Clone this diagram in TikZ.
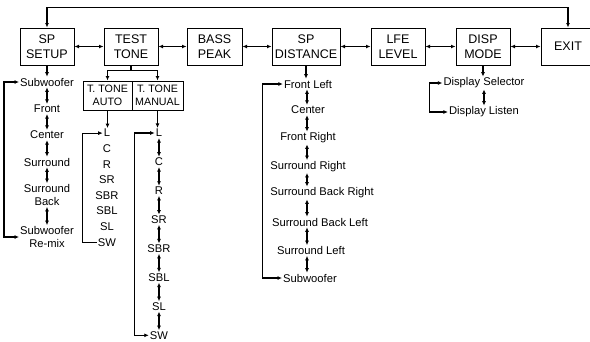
\documentclass[tikz,border=0pt]{standalone}
\usepackage{fontspec}
\setmainfont{Liberation Sans}
\usetikzlibrary{arrows.meta}

\begin{document}
\begin{tikzpicture}[x=1pt, y=-1pt,
    menu/.style={draw, line width=1pt, minimum width=54pt, minimum height=37pt,
      inner sep=2pt, align=center, font=\fontsize{12.5}{15.5}\selectfont},
    submenu/.style={draw, line width=1pt, minimum height=29pt, inner sep=1.5pt,
      align=center, font=\fontsize{10.7}{13}\selectfont},
    item/.style={inner sep=1pt, align=center, font=\fontsize{11.2}{13}\selectfont},
    link/.style={line width=1.2pt, -{Latex[length=4.5pt,width=4pt]}},
    both/.style={line width=1.2pt, {Latex[length=4.5pt,width=4pt]}-{Latex[length=4.5pt,width=4pt]}}]
  \useasboundingbox (0,0) rectangle (590,341);

  % Main menu
  \node[menu] (setup) at (47,46.5) {SP\\SETUP};
  \node[menu] (tone) at (131,46.5) {TEST\\TONE};
  \node[menu, minimum width=55pt] (bass) at (214.5,46.5) {BASS\\PEAK};
  \node[menu, minimum width=68pt] (dist) at (306,46.5) {SP\\DISTANCE};
  \node[menu] (lfe) at (398,46.5) {LFE\\LEVEL};
  \node[menu] (disp) at (483,46.5) {DISP\\MODE};
  \node[menu] (exit) at (568,46.5) {EXIT};
  \foreach \a/\b in {setup/tone,tone/bass,bass/dist,dist/lfe,lfe/disp,disp/exit}
    \draw[both] (\a) -- (\b);
  \draw[both] (setup.north) -- ++(0,-20) -| (exit.north);

  % SP SETUP
  \node[item] (sub) at (47,82) {Subwoofer};
  \node[item] (front) at (47,109) {Front};
  \node[item] (cen) at (47,135) {Center};
  \node[item] (sur) at (47,162) {Surround};
  \node[item] (surb) at (47,195) {Surround\\Back};
  \node[item] (remix) at (47,237) {Subwoofer\\Re-mix};
  \draw[link] (setup.south) -- (sub.north);
  \foreach \a/\b in {sub/front,front/cen,cen/sur,sur/surb,surb/remix}
    \draw[both] (\a) -- (\b);
  \draw[both] (sub.west) -- ++(-15,0) |- (remix.west);

  % TEST TONE
  \node[submenu, minimum width=49pt] (tauto) at (107.5,95.5) {T. TONE\\AUTO};
  \node[submenu, minimum width=51pt] (tman) at (157.5,95.5) {T. TONE\\MANUAL};
  \draw[link] (tone.south) -- ++(0,5) -| (tauto.north);
  \draw[link] (tone.south) -- ++(0,5) -| (tman.north);

  \foreach \t [count=\i] in {L,C,R,SR,SBR,SBL,SL,SW}
    \node[item] (a\i) at (107,117.5+15.6*\i) {\t};
  \draw[link] (tauto.south) -- (tauto.south |- a1.north);
  \draw[link] (a8.west) -- ++(-14,0) |- (a1.west);

  \foreach \t [count=\i] in {L,C,R,SR,SBR,SBL,SL,SW}
    \node[item] (m\i) at (159,104.1+28.9*\i) {\t};
  \draw[link] (tman.south) -- (tman.south |- m1.north);
  \foreach \i [evaluate=\i as \j using int(\i+1)] in {1,...,7}
    \draw[both] (m\i) -- (m\j);
  \draw[both] (m1.west) -- ++(-20,0) |- (m8.west);

  % SP DISTANCE
  \coordinate (dcol) at (307,0);
  \node[item] (d1) at (308,84) {Front Left};
  \node[item] (d2) at (308,110) {Center};
  \node[item] (d3) at (308,138) {Front Right};
  \node[item] (d4) at (308,166.5) {Surround Right};
  \node[item] (d5) at (322,193) {Surround Back Right};
  \node[item] (d6) at (320,222) {Surround Back Left};
  \node[item] (d7) at (311,250.5) {Surround Left};
  \node[item] (d8) at (310,278) {Subwoofer};
  \draw[link] (dist.south) -- (dist.south |- d1.north);
  \foreach \i [evaluate=\i as \j using int(\i+1)] in {1,...,7}
    \draw[both] (d\i.south -| dcol) -- (d\j.north -| dcol);
  \draw[both] (d1.west) -- ++(-20,0) |- (d8.west);

  % DISP MODE
  \node[item] (dsel) at (484,83) {Display Selector};
  \node[item] (dlis) at (484,112) {Display Listen};
  \draw[link] (disp.south) -- (disp.south |- dsel.north);
  \draw[both] (dsel) -- (dlis);
  \draw[both] (dsel.west) -- ++(-13,0) |- (dlis.west);
\end{tikzpicture}
\end{document}
